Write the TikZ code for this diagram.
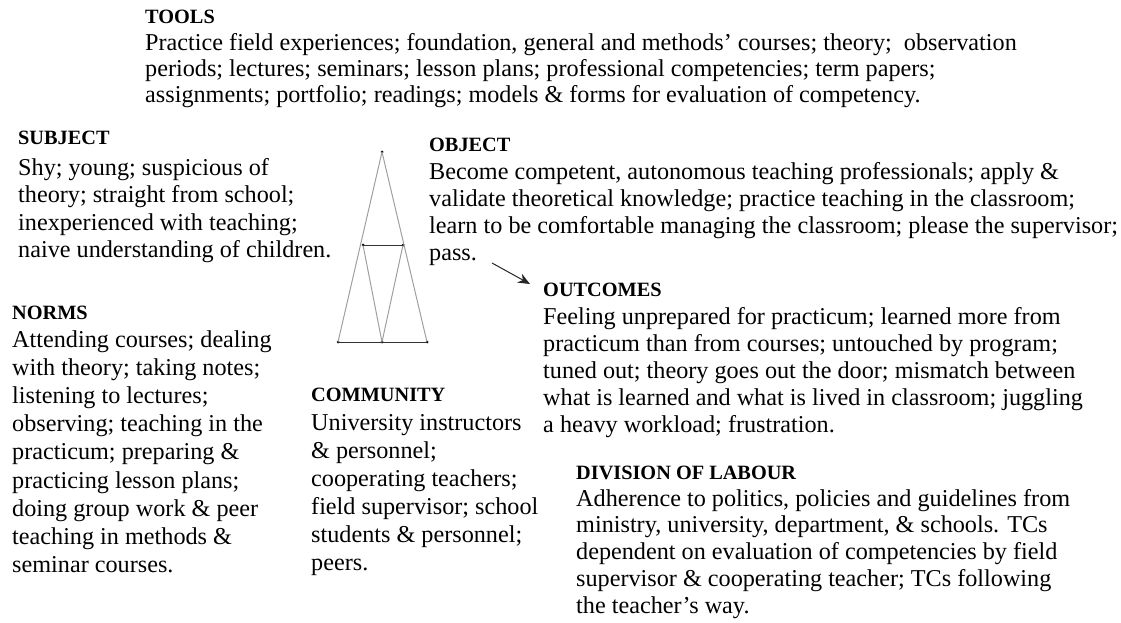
\documentclass[tikz,border=0pt]{standalone}
\usepackage{fontspec}
\setmainfont{Liberation Serif}
\usetikzlibrary{arrows.meta}
\begin{document}
\begin{tikzpicture}[x=1pt,y=1pt,
    head/.style={anchor=base west,inner sep=0pt,font=\fontsize{20.3}{24}\selectfont\bfseries},
    body/.style={anchor=base west,inner sep=0pt,align=left,font=\fontsize{24.2}{#1}\selectfont},
    body/.default=27,
    side/.style={gray!75,line width=1pt},
    dot/.style={circle,fill=black,inner sep=0pt,minimum size=3pt}]
\useasboundingbox (0,0) rectangle (1121,-623);
% top
\node[head] (tools) at (145,-24) {TOOLS};
\node[body=25.8] (toolstxt) at ([yshift=-78.6pt]tools.base west) {Practice field experiences; foundation, general and methods' courses; theory;~ observation\\periods; lectures; seminars; lesson plans; professional competencies; term papers;\\assignments; portfolio; readings; models \& forms for evaluation of competency.};
% left
\node[head] (subject) at (18,-145) {SUBJECT};
\node[body=27.5] (subjecttxt) at ([yshift=-112.5pt]subject.base west) {Shy; young; suspicious of\\theory; straight from school;\\inexperienced with teaching;\\naive understanding of children.};
\node[head] (norms) at (12,-319) {NORMS};
\node[body=28.2] (normstxt) at ([yshift=-253.6pt]norms.base west) {Attending courses; dealing\\with theory; taking notes;\\listening to lectures;\\observing; teaching in the\\practicum; preparing \&\\practicing lesson plans;\\doing group work \& peer\\teaching in methods \&\\seminar courses.};
\node[head] (community) at (311,-401.7) {COMMUNITY};
\node[body=28] (communitytxt) at ([yshift=-168.3pt]community.base west) {University instructors\\\& personnel;\\cooperating teachers;\\field supervisor; school\\students \& personnel;\\peers.};
% right
\node[head] (object) at (429,-151.7) {OBJECT};
\node[body=27] (objecttxt) at ([yshift=-109pt]object.base west) {Become competent, autonomous teaching professionals; apply \&\\validate theoretical knowledge; practice teaching in the classroom;\\learn to be comfortable managing the classroom; please the supervisor;\\pass.};
\node[head] (outcomes) at (543,-296.7) {OUTCOMES};
\node[body=27] (outcomestxt) at ([yshift=-135.6pt]outcomes.base west) {Feeling unprepared for practicum; learned more from\\practicum than from courses; untouched by program;\\tuned out; theory goes out the door; mismatch between\\what is learned and what is lived in classroom; juggling\\a heavy workload; frustration.};
\node[head] (division) at (576,-479) {DIVISION OF LABOUR};
\node[body=26.7] (divisiontxt) at ([yshift=-134pt]division.base west) {Adherence to politics, policies and guidelines from\\ministry, university, department, \& schools. TCs\\dependent on evaluation of competencies by field\\supervisor \& cooperating teacher; TCs following\\the teacher's way.};
% triangle
\node[dot] (apex) at (382,-152) {};
\node[dot] (ml) at (363,-245) {};
\node[dot] (mr) at (403,-245) {};
\node[dot] (bl) at (338,-342) {};
\node[dot] (bm) at (382,-342) {};
\node[dot] (br) at (427,-342) {};
\draw[side] (apex.center)--(bl.center);
\draw[side] (apex.center)--(br.center);
\draw[side] (ml.center)--(bm.center)--(mr.center);
\draw[black!80,line width=1pt] (ml.center)--(mr.center);
\draw[black!80,line width=1pt] (bl.center)--(br.center);
% arrow
\coordinate (from) at (492,-263);
\coordinate (to) at (530,-284);
\draw[-{Stealth[length=12pt,width=10pt]},black!85,line width=1pt] (from)--(to);
\end{tikzpicture}
\end{document}
